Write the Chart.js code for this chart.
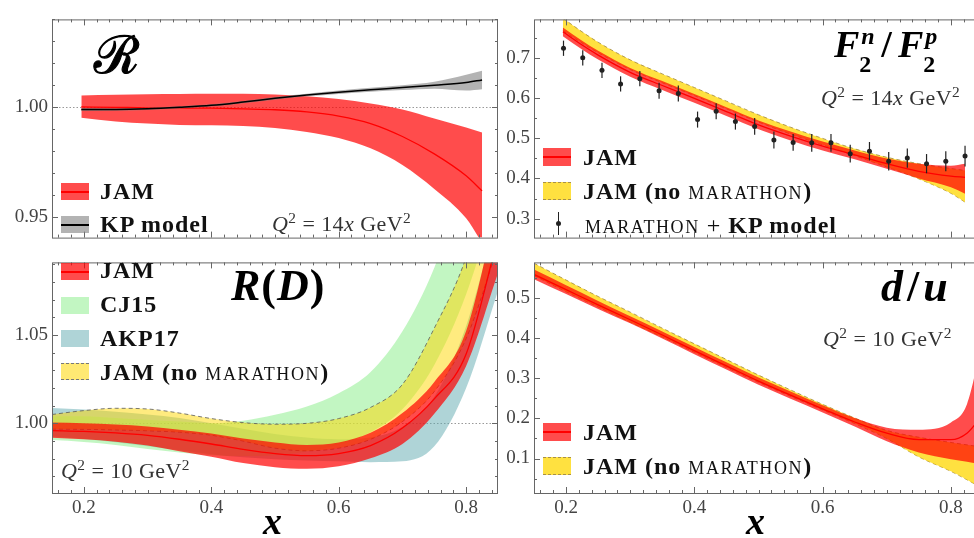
<!DOCTYPE html>
<html lang="en">
<head>
<meta charset="UTF-8">
<title>JAM ratios</title>
<style>
  body { margin: 0; background: #fff; }
  #page { position: relative; width: 974px; height: 538px; overflow: hidden; font-family: "Liberation Serif", "DejaVu Serif", serif; color: #111; }
  canvas { position: absolute; }
  .t { position: absolute; white-space: nowrap; line-height: 1; }
  .leg { font-size: 24px; font-weight: bold; letter-spacing: 1px; color: #111; }
  .sc { font-variant-caps: all-small-caps; font-weight: normal; letter-spacing: 1.6px; font-size: 25px; }
  .q { font-size: 22px; color: #333; letter-spacing: 0.4px; }
  .q sup { font-size: 0.7em; position: relative; top: -0.5em; vertical-align: baseline; line-height: 0; }
  .q .eq { margin: 0 6px; }
  .q .gap { margin-left: 6px; }
  .title { font-weight: bold; color: #000; }
  .ss { position: relative; display: inline-block; width: 19px; height: 0; }
  .ss .sup { position: absolute; left: 2px; top: -33px; font-size: 24px; }
  .ss .sub { position: absolute; left: 0; top: -5px; font-size: 24px; font-style: normal; }
  .sw { position: absolute; width: 28px; height: 17px; box-sizing: border-box; }
  .jam { background: linear-gradient(#f00, #f00) center / 100% 2px no-repeat, rgba(255, 0, 0, 0.7); }
  .kp { background: linear-gradient(#000, #000) center / 100% 2px no-repeat, rgba(128, 128, 128, 0.6); }
  .nomar { background: rgba(255, 215, 0, 0.75); border-top: 1px dashed #a89048; border-bottom: 1px dashed #a89048; }
  .nomar2 { background: rgba(255, 215, 0, 0.55); border-top: 1px dashed #777; border-bottom: 1px dashed #777; }
  .cj { background: rgba(144, 238, 144, 0.55); }
  .akp { background: rgba(95, 170, 175, 0.5); }
  .eb { position: absolute; width: 1px; height: 23px; background: #222; }
  .dot { position: absolute; width: 5px; height: 5px; border-radius: 50%; background: #222; }
</style>
</head>
<body>
<div id="page">
  <canvas id="cTL"></canvas>
  <canvas id="cTR"></canvas>
  <canvas id="cBL"></canvas>
  <canvas id="cBR"></canvas>

  <!-- top left -->
  <div class="t title" style="left:94px;top:29px;font-size:52px;font-family:'DejaVu Serif',serif;font-weight:normal;-webkit-text-stroke:1.2px #000">ℛ</div>
  <div class="sw jam" style="left:61px;top:183px"></div>
  <div class="t leg" style="left:100px;top:179px">JAM</div>
  <div class="sw kp" style="left:61px;top:216px"></div>
  <div class="t leg" style="left:100px;top:212px">KP model</div>
  <div class="t q" style="left:272px;top:213px"><i>Q</i><sup>2</sup><span class="eq">=</span>14<i>x</i><span class="gap">GeV</span><sup>2</sup></div>

  <!-- top right -->
  <div class="t title" style="left:834px;top:25px;font-size:38px"><i>F</i><span class="ss"><i class="sup">n</i><span class="sub">2</span></span><span style="margin:0 6px 0 3px">/</span><i>F</i><span class="ss"><i class="sup">p</i><span class="sub">2</span></span></div>
  <div class="t q" style="left:821px;top:87px"><i>Q</i><sup>2</sup><span class="eq">=</span>14<i>x</i><span class="gap">GeV</span><sup>2</sup></div>
  <div class="sw jam" style="left:543px;top:148px;height:18px"></div>
  <div class="t leg" style="left:583px;top:145px">JAM</div>
  <div class="sw nomar" style="left:543px;top:182px;height:18px"></div>
  <div class="t leg" style="left:583px;top:178px">JAM (no <span class="sc">MARATHON</span>)</div>
  <div class="eb" style="left:558px;top:212px"></div>
  <div class="dot" style="left:556px;top:221px"></div>
  <div class="t leg" style="left:585px;top:212px"><span class="sc">MARATHON</span> <span style="font-weight:normal">+</span> KP model</div>

  <!-- bottom left -->
  <div class="t title" style="left:231px;top:264px;font-size:44px;letter-spacing:1px"><i>R</i>(<i>D</i>)</div>
  <div class="sw jam" style="left:61px;top:263px"></div>
  <div class="t leg" style="left:100px;top:258px">JAM</div>
  <div class="sw cj" style="left:61px;top:297px"></div>
  <div class="t leg" style="left:100px;top:292px">CJ15</div>
  <div class="sw akp" style="left:61px;top:330px"></div>
  <div class="t leg" style="left:100px;top:326px">AKP17</div>
  <div class="sw nomar2" style="left:61px;top:363px"></div>
  <div class="t leg" style="left:100px;top:359px">JAM (no <span class="sc">MARATHON</span>)</div>
  <div class="t q" style="left:61px;top:460px"><i>Q</i><sup>2</sup><span class="eq">=</span>10<span class="gap">GeV</span><sup>2</sup></div>
  <div class="t title" style="left:263px;top:502px;font-size:38px"><i>x</i></div>

  <!-- bottom right -->
  <div class="t title" style="left:881px;top:265px;font-size:44px;letter-spacing:4px"><i>d</i>/<i>u</i></div>
  <div class="t q" style="left:823px;top:328px"><i>Q</i><sup>2</sup><span class="eq">=</span>10<span class="gap">GeV</span><sup>2</sup></div>
  <div class="sw jam" style="left:543px;top:423px;height:18px"></div>
  <div class="t leg" style="left:583px;top:420px">JAM</div>
  <div class="sw nomar" style="left:543px;top:457px;height:18px"></div>
  <div class="t leg" style="left:583px;top:453px">JAM (no <span class="sc">MARATHON</span>)</div>
  <div class="t title" style="left:746px;top:502px;font-size:38px"><i>x</i></div>
</div>

<script src="https://cdn.jsdelivr.net/npm/chart.js"></script>
<script>
// ---------------- data ----------------
const xTicks = [0.2, 0.4, 0.6, 0.8];

// top left: R (JAM vs KP model), Q^2 = 14x
const rX      = [0.196, 0.25, 0.30, 0.35, 0.40, 0.45, 0.50, 0.55, 0.60, 0.65, 0.70, 0.75, 0.80, 0.825];
const rJamMid = [1.0001, 0.9999, 0.9997, 0.9996, 0.9995, 0.9992, 0.9988, 0.9978, 0.9959, 0.9925, 0.9866, 0.9787, 0.9687, 0.9618];
const rJamHi  = [1.0053, 1.0056, 1.0059, 1.0060, 1.0061, 1.0061, 1.0057, 1.0049, 1.0037, 1.0016, 0.9989, 0.9948, 0.9907, 0.9884];
const rJamLo  = [0.9952, 0.9934, 0.9925, 0.9919, 0.9917, 0.9914, 0.9905, 0.9887, 0.9859, 0.9812, 0.9736, 0.9627, 0.9493, 0.9381];
const rKpMid  = [0.9989, 0.9989, 0.9992, 0.9999, 1.0008, 1.0023, 1.0040, 1.0055, 1.0068, 1.0079, 1.0089, 1.0100, 1.0112, 1.0124];
const rKpHi   = [0.9996, 0.9994, 0.9997, 1.0004, 1.0013, 1.0028, 1.0046, 1.0061, 1.0076, 1.0088, 1.0100, 1.0116, 1.0148, 1.0166];
const rKpLo   = [0.9982, 0.9984, 0.9987, 0.9994, 1.0003, 1.0018, 1.0034, 1.0049, 1.0060, 1.0070, 1.0078, 1.0084, 1.0076, 1.0082];
const rTicks  = [0.95, 1.00];

// top right: F2n/F2p, Q^2 = 14x
const fX      = [0.195, 0.225, 0.25, 0.30, 0.35, 0.40, 0.45, 0.50, 0.55, 0.60, 0.65, 0.70, 0.75, 0.80, 0.822];
const fJamMid = [0.766, 0.733, 0.708, 0.665, 0.632, 0.600, 0.567, 0.534, 0.506, 0.481, 0.459, 0.437, 0.418, 0.406, 0.403];
const fJamHi  = [0.777, 0.744, 0.719, 0.676, 0.643, 0.611, 0.578, 0.545, 0.517, 0.492, 0.470, 0.450, 0.437, 0.432, 0.437];
const fJamLo  = [0.755, 0.722, 0.697, 0.654, 0.621, 0.589, 0.556, 0.523, 0.495, 0.470, 0.448, 0.424, 0.400, 0.378, 0.362];
const fNoHi   = [0.800, 0.766, 0.740, 0.696, 0.661, 0.627, 0.593, 0.559, 0.528, 0.500, 0.474, 0.453, 0.437, 0.425, 0.420];
const fNoLo   = [0.769, 0.738, 0.714, 0.672, 0.639, 0.607, 0.574, 0.541, 0.511, 0.484, 0.457, 0.429, 0.399, 0.363, 0.341];
const marX    = [0.196, 0.226, 0.256, 0.285, 0.315, 0.345, 0.375, 0.405, 0.434, 0.464, 0.494,
                 0.524, 0.554, 0.583, 0.613, 0.643, 0.673, 0.703, 0.732, 0.762, 0.792, 0.822];
const marY    = [0.725, 0.701, 0.670, 0.636, 0.649, 0.619, 0.612, 0.547, 0.568, 0.542, 0.530,
                 0.496, 0.490, 0.489, 0.489, 0.462, 0.468, 0.443, 0.451, 0.437, 0.443, 0.456];
const marErr  = [0.019, 0.019, 0.019, 0.019, 0.019, 0.020, 0.020, 0.020, 0.020, 0.020, 0.021,
                 0.021, 0.021, 0.022, 0.022, 0.022, 0.023, 0.023, 0.024, 0.024, 0.025, 0.026];
const fTicks  = [0.3, 0.4, 0.5, 0.6, 0.7];

// bottom left: R(D), Q^2 = 10
const dX      = [0.15, 0.20, 0.25, 0.30, 0.35, 0.40, 0.45, 0.50, 0.55, 0.60, 0.65, 0.70, 0.75, 0.80, 0.85];
const dJamMid = [0.9959, 0.9955, 0.9946, 0.9932, 0.9910, 0.9883, 0.9853, 0.9829, 0.9817, 0.9829, 0.9874, 0.9973, 1.0138, 1.0392, 1.105];
const dJamHi  = [1.0004, 1.0000, 0.9993, 0.9982, 0.9964, 0.9942, 0.9914, 0.9892, 0.9878, 0.9892, 0.9946, 1.0058, 1.0234, 1.0522, 1.125];
const dJamLo  = [0.9919, 0.9910, 0.9896, 0.9874, 0.9842, 0.9811, 0.9775, 0.9752, 0.9743, 0.9757, 0.9802, 0.9883, 1.0054, 1.0324, 1.085];
const dNoHi   = [1.0050, 1.0072, 1.0085, 1.0081, 1.0058, 1.0027, 1.0004, 0.9995, 1.0000, 1.0027, 1.0090, 1.0220, 1.0538, 1.094, 1.16];
const dNoLo   = [0.9968, 0.9966, 0.9963, 0.9958, 0.9950, 0.9933, 0.9900, 0.9860, 0.9845, 0.9860, 0.9910, 1.0010, 1.018, 1.048, 1.10];
const dCjHi   = [1.0040, 1.0040, 1.0030, 1.0020, 1.0010, 1.0000, 1.0015, 1.0048, 1.0095, 1.0170, 1.0290, 1.0520, 1.088, 1.14, 1.21];
const dCjLo   = [0.9905, 0.9895, 0.9878, 0.9855, 0.9835, 0.9820, 0.9815, 0.9820, 0.9840, 0.9880, 0.9950, 1.008, 1.033, 1.073, 1.13];
const dAkHi   = [1.0086, 1.0078, 1.0065, 1.0050, 1.0030, 1.0000, 0.9970, 0.9940, 0.9920, 0.9910, 0.9920, 0.9980, 1.0150, 1.0550, 1.12];
const dAkLo   = [0.9925, 0.9912, 0.9893, 0.9870, 0.9848, 0.9825, 0.9808, 0.9797, 0.9790, 0.9785, 0.9780, 0.9785, 0.9870, 1.0200, 1.075];
const dTicks  = [1.00, 1.05];

// bottom right: d/u, Q^2 = 10
const uX      = [0.15, 0.20, 0.25, 0.30, 0.35, 0.40, 0.45, 0.50, 0.55, 0.60, 0.65, 0.70, 0.75, 0.80, 0.825, 0.85];
const uJamMid = [0.559, 0.521, 0.483, 0.446, 0.408, 0.369, 0.331, 0.293, 0.258, 0.224, 0.191, 0.163, 0.147, 0.147, 0.163, 0.21];
const uJamHi  = [0.571, 0.532, 0.493, 0.455, 0.417, 0.378, 0.340, 0.302, 0.267, 0.233, 0.201, 0.177, 0.172, 0.190, 0.235, 0.40];
const uJamLo  = [0.547, 0.510, 0.473, 0.437, 0.399, 0.360, 0.322, 0.284, 0.249, 0.215, 0.180, 0.143, 0.115, 0.098, 0.092, 0.085];
const uNoHi   = [0.587, 0.545, 0.504, 0.465, 0.425, 0.386, 0.347, 0.308, 0.271, 0.235, 0.201, 0.170, 0.153, 0.140, 0.134, 0.128];
const uNoLo   = [0.556, 0.516, 0.478, 0.440, 0.403, 0.365, 0.327, 0.290, 0.255, 0.221, 0.187, 0.150, 0.104, 0.068, 0.047, 0.025];
const uTicks  = [0.1, 0.2, 0.3, 0.4, 0.5];

// ---------------- helpers ----------------
const AXIS_W = 52, PAD_T = 4, PAD_R = 4;
const RED = 'rgba(255,0,0,0.7)';

function pts(xs, ys) {
    return xs.map((x, i) => ({ x: x, y: ys[i] }));
}

function curve(xs, ys, color, width, dash) {
    return {
        data: pts(xs, ys), borderColor: color, borderWidth: width, borderDash: dash || [],
        pointRadius: 0, fill: false, cubicInterpolationMode: 'monotone'
    };
}

// upper edge fills down to the lower edge (next dataset)
function band(xs, lo, hi, color, edge, dash) {
    const up = curve(xs, hi, edge || 'rgba(0,0,0,0)', edge ? 1 : 0, dash);
    up.fill = '+1';
    up.backgroundColor = color;
    const down = curve(xs, lo, edge || 'rgba(0,0,0,0)', edge ? 1 : 0, dash);
    return [up, down];
}

function steps(min, max, step) {
    const out = [];
    for (let k = Math.ceil(min / step - 1e-6); k * step <= max + 1e-9; k++) out.push(k * step);
    return out;
}

// box, inward ticks on all four sides, dotted reference line
const frame = {
    id: 'frame',
    beforeDatasetsDraw(chart, args, o) {
        if (o.ref === undefined) return;
        const { ctx, chartArea: a, scales: { y } } = chart;
        const py = Math.round(y.getPixelForValue(o.ref)) + 0.5;
        ctx.save();
        ctx.strokeStyle = '#999';
        ctx.lineWidth = 1;
        ctx.setLineDash([1.5, 2]);
        ctx.beginPath(); ctx.moveTo(a.left, py); ctx.lineTo(a.right, py); ctx.stroke();
        ctx.restore();
    },
    afterDraw(chart, args, o) {
        const { ctx, chartArea: a, scales: { x, y } } = chart;
        ctx.save();
        ctx.strokeStyle = '#666';
        ctx.lineWidth = 1;
        ctx.beginPath();
        steps(x.min, x.max, o.xMinor).forEach(v => {
            const p = Math.round(x.getPixelForValue(v)) + 0.5;
            const len = Math.abs(v / o.xMajor - Math.round(v / o.xMajor)) < 1e-6 ? 6 : 3;
            ctx.moveTo(p, a.bottom); ctx.lineTo(p, a.bottom - len);
            ctx.moveTo(p, a.top); ctx.lineTo(p, a.top + len);
        });
        steps(y.min, y.max, o.yMinor).forEach(v => {
            const p = Math.round(y.getPixelForValue(v)) + 0.5;
            const len = Math.abs(v / o.yMajor - Math.round(v / o.yMajor)) < 1e-6 ? 6 : 3;
            ctx.moveTo(a.left, p); ctx.lineTo(a.left + len, p);
            ctx.moveTo(a.right, p); ctx.lineTo(a.right - len, p);
        });
        ctx.stroke();
        ctx.strokeRect(a.left + 0.5, a.top + 0.5, a.right - a.left - 1, a.bottom - a.top);
        ctx.restore();
    }
};

const errorBars = {
    id: 'errorBars',
    afterDatasetsDraw(chart) {
        const { ctx, scales: { x, y } } = chart;
        chart.data.datasets.forEach(ds => {
            if (!ds.errors) return;
            ctx.save();
            ctx.strokeStyle = '#222';
            ctx.lineWidth = 1.2;
            ds.data.forEach((p, i) => {
                const px = x.getPixelForValue(p.x);
                ctx.beginPath();
                ctx.moveTo(px, y.getPixelForValue(p.y - ds.errors[i]));
                ctx.lineTo(px, y.getPixelForValue(p.y + ds.errors[i]));
                ctx.stroke();
            });
            ctx.restore();
        });
    }
};

function makePanel(id, p) {
    const cv = document.getElementById(id);
    cv.width = p.right - p.left + AXIS_W + PAD_R;
    cv.height = p.bottom - p.top + PAD_T + p.below;
    cv.style.left = (p.left - AXIS_W) + 'px';
    cv.style.top = (p.top - PAD_T) + 'px';
    const font = { family: 'Liberation Serif', size: 19 };
    return new Chart(cv, {
        type: 'line',
        data: { datasets: p.datasets },
        options: {
            responsive: false,
            animation: false,
            events: [],
            layout: { padding: { top: PAD_T, right: PAD_R, left: 0, bottom: 0 } },
            plugins: {
                legend: { display: false },
                tooltip: { enabled: false },
                frame: { xMinor: 0.02, xMajor: 0.2, yMinor: p.yMinor, yMajor: p.yMajor, ref: p.ref }
            },
            scales: {
                x: {
                    type: 'linear', min: 0.15, max: 0.85,
                    grid: { display: false, drawTicks: false },
                    border: { display: false },
                    afterBuildTicks: s => { s.ticks = xTicks.map(v => ({ value: v })); },
                    afterFit: s => { s.height = p.below; },
                    ticks: { display: p.xLabels, autoSkip: false, padding: 4, color: '#444', font: font,
                        callback: v => v.toFixed(1) }
                },
                y: {
                    type: 'linear', min: p.yMin, max: p.yMax,
                    grid: { display: false, drawTicks: false },
                    border: { display: false },
                    afterBuildTicks: s => { s.ticks = p.yTicks.map(v => ({ value: v })); },
                    afterFit: s => { s.width = AXIS_W; },
                    ticks: { autoSkip: false, padding: 4, color: '#444', font: font,
                        callback: v => v.toFixed(p.digits) }
                }
            }
        },
        plugins: [frame, errorBars]
    });
}

// ---------------- panels ----------------
makePanel('cTL', {
    left: 52, top: 8, right: 498, bottom: 251, below: 2, xLabels: false,
    yMin: 0.9405, yMax: 1.040, yTicks: rTicks, digits: 2, yMinor: 0.01, yMajor: 0.05, ref: 1.0,
    datasets: [
        curve(rX, rKpMid, '#000', 1.5),
        ...band(rX, rKpLo, rKpHi, 'rgba(128,128,128,0.6)'),
        curve(rX, rJamMid, '#f00', 1.3),
        ...band(rX, rJamLo, rJamHi, RED)
    ]
});

makePanel('cTR', {
    left: 534, top: 8, right: 983, bottom: 251, below: 2, xLabels: false,
    yMin: 0.2525, yMax: 0.797, yTicks: fTicks, digits: 1, yMinor: 0.05, yMajor: 0.1,
    datasets: [
        { data: pts(marX, marY), errors: marErr, showLine: false, pointRadius: 2.5,
          pointBackgroundColor: '#222', pointBorderWidth: 0, borderColor: '#222' },
        curve(fX, fJamMid, '#f00', 1.3),
        ...band(fX, fJamLo, fJamHi, RED),
        ...band(fX, fNoLo, fNoHi, 'rgba(255,215,0,0.75)', 'rgba(160,135,60,0.8)', [4, 3])
    ]
});

makePanel('cBL', {
    left: 52, top: 251, right: 498, bottom: 493, below: 45, xLabels: true,
    yMin: 0.9606, yMax: 1.091, yTicks: dTicks, digits: 2, yMinor: 0.01, yMajor: 0.05, ref: 1.0,
    datasets: [
        curve(dX, dJamMid, '#f00', 1.3),
        ...band(dX, dJamLo, dJamHi, RED),
        ...band(dX, dNoLo, dNoHi, 'rgba(255,215,0,0.5)', 'rgba(90,90,90,0.8)', [4, 3]),
        ...band(dX, dCjLo, dCjHi, 'rgba(144,238,144,0.55)'),
        ...band(dX, dAkLo, dAkHi, 'rgba(95,170,175,0.5)')
    ]
});

makePanel('cBR', {
    left: 534, top: 251, right: 983, bottom: 493, below: 45, xLabels: true,
    yMin: 0.014, yMax: 0.589, yTicks: uTicks, digits: 1, yMinor: 0.05, yMajor: 0.1,
    datasets: [
        curve(uX, uJamMid, '#f00', 1.3),
        ...band(uX, uJamLo, uJamHi, RED),
        ...band(uX, uNoLo, uNoHi, 'rgba(255,215,0,0.75)', 'rgba(160,135,60,0.8)', [4, 3])
    ]
});
</script>
</body>
</html>
